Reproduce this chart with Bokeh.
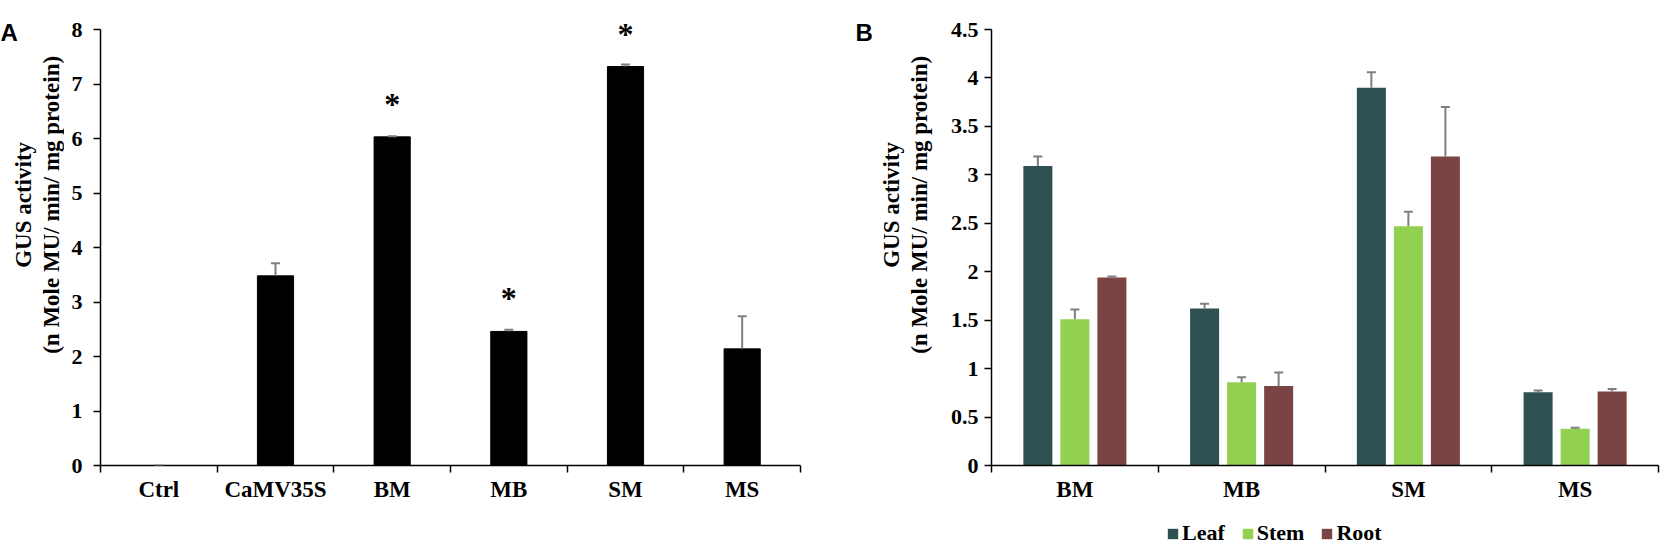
from bokeh.plotting import figure
from bokeh.models import (Range1d, FixedTicker, CustomJSTickFormatter, NumeralTickFormatter,
                          ColumnDataSource, Whisker, TeeHead, LabelSet, Label, Legend, LegendItem)
from bokeh.layouts import row, column
from bokeh.embed import file_html
from bokeh.resources import INLINE
import math

# ---------------- data ----------------
cats_a = ["Ctrl", "CaMV35S", "BM", "MB", "SM", "MS"]
vals_a = [0.0, 3.48, 6.03, 2.46, 7.32, 2.14]
errs_a = [0.0, 0.23, 0.01, 0.03, 0.04, 0.60]
stars_a = ["", "", "*", "*", "*", ""]
yticks_a = [0, 1, 2, 3, 4, 5, 6, 7, 8]

cats_b = ["BM", "MB", "SM", "MS"]
series_b = ["Leaf", "Stem", "Root"]
leaf = [3.09, 1.62, 3.90, 0.755]
leaf_err = [0.10, 0.05, 0.16, 0.02]
stem = [1.51, 0.86, 2.47, 0.38]
stem_err = [0.10, 0.05, 0.15, 0.01]
root = [1.94, 0.82, 3.19, 0.765]
root_err = [0.01, 0.14, 0.51, 0.025]
yticks_b = [0, 0.5, 1, 1.5, 2, 2.5, 3, 3.5, 4, 4.5]

ytitle1 = "GUS activity"
ytitle2 = "(n Mole MU/ min/ mg protein)"

# ---------------- styles / layout (page pixels) ----------------
SERIF = "Liberation Serif"
SANS = "Liberation Sans"
C_LEAF, C_STEM, C_ROOT = "#2F5051", "#92D050", "#7B4444"
C_ERR = "#7F7F7F"
colors_b = [C_LEAF, C_STEM, C_ROOT]

FRAME_TOP, FRAME_BOT = 29, 465   # where the axis top / zero line sit on the page
TOP_PAD = 19                     # extra drawing room above the axis top (for the asterisks)
H1 = 515            # height of the chart row
H2 = 31             # height of the legend strip
TA_W = 64           # title strip of panel A
A_LEFT, A_RIGHT = 100, 800
A_END = 818
TB_END = 945
B_LEFT, B_RIGHT = 991, 1658
TOTAL_W = 1664
AXIS_H = FRAME_BOT - FRAME_TOP


def style(p, ylab_standoff, ymax):
    p.outline_line_color = None
    p.xgrid.grid_line_color = None
    p.ygrid.grid_line_color = None
    p.background_fill_color = "white"
    for ax in (p.xaxis[0], p.yaxis[0]):
        ax.axis_line_color = "black"
        ax.axis_line_width = 1.5
        ax.major_label_text_font = SERIF
        ax.major_label_text_font_style = "bold"
        ax.major_label_text_color = "black"
    y = p.yaxis[0]
    y.bounds = (0, ymax)
    y.major_tick_line_color = "black"
    y.major_tick_line_width = 1.5
    y.major_tick_out = 7
    y.major_tick_in = 0
    y.minor_tick_line_color = None
    y.major_label_text_font_size = "22px"
    y.major_label_standoff = ylab_standoff
    x = p.xaxis[0]
    x.major_tick_line_color = None
    x.major_tick_out = 7
    x.major_tick_in = 0
    x.minor_tick_line_color = "black"
    x.minor_tick_line_width = 1.5
    x.minor_tick_out = 7
    x.minor_tick_in = 0
    x.major_label_text_font_size = "23px"
    x.major_label_standoff = 4


def cat_axis(p, cats):
    n = len(cats)
    p.xaxis[0].ticker = FixedTicker(ticks=[i + 0.5 for i in range(n)],
                                    minor_ticks=[float(i) for i in range(n + 1)])
    p.xaxis[0].formatter = CustomJSTickFormatter(args=dict(labels=cats),
                                                 code="return labels[Math.round(tick - 0.5)];")


def title_strip(x0, x1, letter, letter_x, t1_x, t2_x):
    # a plain drawing area whose data coordinates are page pixels
    f = figure(width=x1 - x0, height=H1, x_range=Range1d(x0, x1), y_range=Range1d(H1, 0),
               x_axis_type=None, y_axis_type=None, output_backend="svg", toolbar_location=None,
               min_border=0, outline_line_color=None)
    f.add_layout(Label(x=letter_x, y=25, text=letter, text_font=SANS, text_font_style="bold",
                       text_font_size="24px", text_align="left", text_baseline="alphabetic",
                       text_color="black"))
    for txt, xc in ((ytitle1, t1_x), (ytitle2, t2_x)):
        f.add_layout(Label(x=xc, y=220, text=txt, angle=math.pi / 2, text_font=SERIF,
                           text_font_style="bold", text_font_size="23px", text_align="center",
                           text_baseline="middle", text_color="black"))
    return f


def panel(width, left, right, ymax):
    return figure(width=width, height=H1, x_range=Range1d(0, 1),
                  y_range=Range1d(0, ymax * (AXIS_H + TOP_PAD) / AXIS_H),
                  output_backend="svg", toolbar_location=None,
                  min_border_left=left, min_border_right=right,
                  min_border_top=FRAME_TOP - TOP_PAD, min_border_bottom=H1 - FRAME_BOT)


# ---------------- panel A ----------------
tA = title_strip(0, TA_W, "A", 0, 23, 51)

nA = len(cats_a)
YMAX_A = yticks_a[-1]
pA = panel(A_END - TA_W, A_LEFT - TA_W, A_END - A_RIGHT, YMAX_A)
pA.x_range.end = nA
style(pA, 11, YMAX_A)
cat_axis(pA, cats_a)
pA.yaxis[0].ticker = FixedTicker(ticks=yticks_a)

xa = [i + 0.5 for i in range(nA)]
srcA = ColumnDataSource(dict(x=xa, top=vals_a, lower=vals_a,
                             upper=[v + e for v, e in zip(vals_a, errs_a)], star=stars_a))
pA.vbar(x="x", top="top", width=0.31, bottom=0, source=srcA, fill_color="black", line_color="black")
pA.add_layout(Whisker(source=srcA, base="x", lower="lower", upper="upper",
                      line_color=C_ERR, line_width=2, level="annotation",
                      upper_head=TeeHead(size=9, line_color=C_ERR, line_width=2), lower_head=None))
pA.add_layout(LabelSet(source=srcA, x="x", y="top", text="star", y_offset=22,
                       text_align="center", text_baseline="alphabetic",
                       text_font=SERIF, text_font_style="bold", text_font_size="32px",
                       text_color="black"))

# ---------------- panel B ----------------
tB = title_strip(A_END, TB_END, "B", 855, 891, 919)

nB = len(cats_b)
YMAX_B = yticks_b[-1]
pB = panel(TOTAL_W - TB_END, B_LEFT - TB_END, TOTAL_W - B_RIGHT, YMAX_B)
pB.x_range.end = nB
style(pB, 6, YMAX_B)
cat_axis(pB, cats_b)
pB.yaxis[0].ticker = FixedTicker(ticks=yticks_b)
pB.yaxis[0].formatter = NumeralTickFormatter(format="0.[0]")

offsets = [-0.222, 0.0, 0.222]
for s_name, vals, errs, col, off in zip(series_b, [leaf, stem, root], [leaf_err, stem_err, root_err],
                                        colors_b, offsets):
    xs = [i + 0.5 + off for i in range(nB)]
    src = ColumnDataSource(dict(x=xs, top=vals, lower=vals, upper=[v + e for v, e in zip(vals, errs)]))
    pB.vbar(x="x", top="top", width=0.174, bottom=0, source=src, fill_color=col, line_color=None)
    pB.add_layout(Whisker(source=src, base="x", lower="lower", upper="upper",
                          line_color=C_ERR, line_width=2, level="annotation",
                          upper_head=TeeHead(size=9, line_color=C_ERR, line_width=2), lower_head=None))

# ---------------- legend strip ----------------
lf = figure(width=TOTAL_W, height=H2, x_range=Range1d(0, TOTAL_W), y_range=Range1d(0, H2),
            x_axis_type=None, y_axis_type=None, output_backend="svg", toolbar_location=None,
            min_border=0, outline_line_color=None)
items = []
for s_name, col in zip(series_b, colors_b):
    # zero-height proxy bar: only gives the legend its swatch colour
    r = lf.vbar(x=[0], top=[0], bottom=[0], width=1, fill_color=col, line_color=None)
    items.append(LegendItem(label=s_name, renderers=[r]))
leg = Legend(items=items, orientation="horizontal", location=(1166, 0),
             glyph_width=13, glyph_height=13, label_height=13, label_standoff=3, spacing=16,
             padding=0, margin=0, border_line_color=None, background_fill_alpha=0,
             label_text_font=SERIF, label_text_font_style="bold", label_text_font_size="22px",
             label_text_color="black")
lf.add_layout(leg)

layout = column(row(tA, pA, tB, pB), lf)
open("out.html", "w").write(file_html(layout, INLINE))
